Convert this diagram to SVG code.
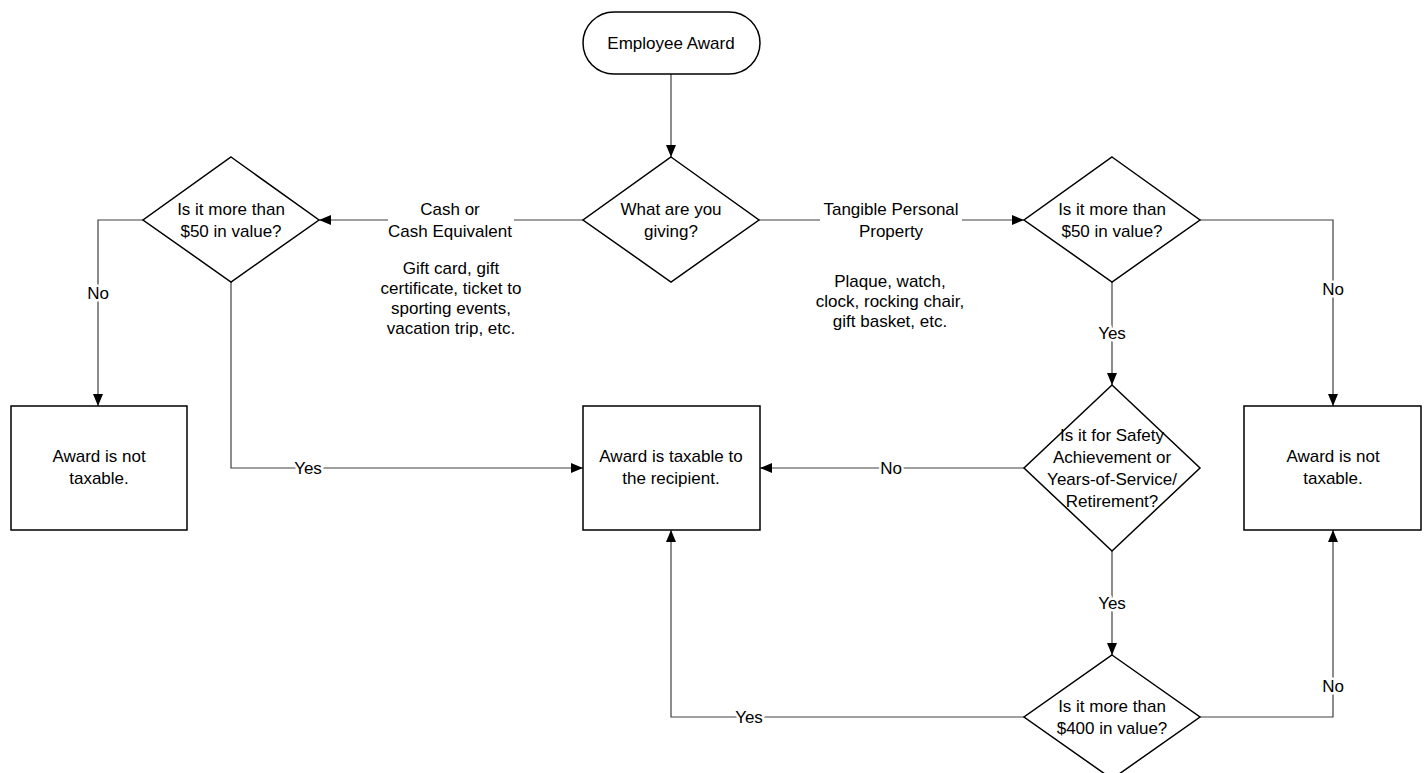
<svg xmlns="http://www.w3.org/2000/svg" width="1426" height="773" viewBox="0 0 1426 773">
<style>
.shape{fill:#fff;stroke:#000;stroke-width:1.5}
.conn{fill:none;stroke:#404040;stroke-width:1.2}
text{font-family:"Liberation Sans",Arial,sans-serif;font-size:17px;fill:#000;text-anchor:middle}
.lbl{paint-order:stroke;stroke:#fff;stroke-width:5px;stroke-linejoin:round}
</style>
<defs>
<marker id="arr" markerUnits="userSpaceOnUse" markerWidth="13" markerHeight="11" refX="12" refY="5.5" orient="auto">
<path d="M0,0.5 L12,5.5 L0,10.5 z" fill="#000"/>
</marker>
</defs>
<rect width="1426" height="773" fill="#fff"/>
<g id="connectors">
<path class="conn" d="M671,74 V157" marker-end="url(#arr)"/>
<path class="conn" d="M583,220 H319" marker-end="url(#arr)"/>
<path class="conn" d="M759,220 H1024" marker-end="url(#arr)"/>
<path class="conn" d="M143,220 H98 V406" marker-end="url(#arr)"/>
<path class="conn" d="M231,282 V468 H583" marker-end="url(#arr)"/>
<path class="conn" d="M1200,220 H1333 V406" marker-end="url(#arr)"/>
<path class="conn" d="M1112,282 V385" marker-end="url(#arr)"/>
<path class="conn" d="M1024,468 H760" marker-end="url(#arr)"/>
<path class="conn" d="M1112,551 V655" marker-end="url(#arr)"/>
<path class="conn" d="M1024,717 H671 V530" marker-end="url(#arr)"/>
<path class="conn" d="M1200,717 H1333 V530" marker-end="url(#arr)"/>
<rect x="388" y="198" width="126" height="44" fill="#fff"/>
<rect x="820" y="198" width="142" height="44" fill="#fff"/>
<text class="lbl" x="450" y="215">Cash or</text>
<text class="lbl" x="450" y="237">Cash Equivalent</text>
<text x="451" y="274">Gift card, gift</text>
<text x="451" y="294">certificate, ticket to</text>
<text x="451" y="314">sporting events,</text>
<text x="451" y="334">vacation trip, etc.</text>
<text class="lbl" x="891" y="215">Tangible Personal</text>
<text class="lbl" x="891" y="237">Property</text>
<text x="890" y="287">Plaque, watch,</text>
<text x="890" y="307">clock, rocking chair,</text>
<text x="890" y="327">gift basket, etc.</text>
<text class="lbl" x="98" y="299">No</text>
<text class="lbl" x="308" y="474">Yes</text>
<text class="lbl" x="1333" y="295">No</text>
<text class="lbl" x="1112" y="339">Yes</text>
<text class="lbl" x="891" y="474">No</text>
<text class="lbl" x="1112" y="609">Yes</text>
<text class="lbl" x="749" y="723">Yes</text>
<text class="lbl" x="1333" y="692">No</text>
</g>
<g id="start">
<rect class="shape" x="583" y="12" width="177" height="62" rx="31" ry="31"/>
<text x="671" y="49">Employee Award</text>
</g>
<g id="q-what">
<polygon class="shape" points="671,157 759,220 671,282 583,220"/>
<text x="671" y="215">What are you</text>
<text x="671" y="237">giving?</text>
</g>
<g id="q-cash50">
<polygon class="shape" points="231,157 319,220 231,282 143,220"/>
<text x="231" y="215">Is it more than</text>
<text x="231" y="237">$50 in value?</text>
</g>
<g id="q-prop50">
<polygon class="shape" points="1112,157 1200,220 1112,282 1024,220"/>
<text x="1112" y="215">Is it more than</text>
<text x="1112" y="237">$50 in value?</text>
</g>
<g id="q-safety">
<polygon class="shape" points="1112,385 1200,468 1112,551 1024,468"/>
<text x="1112" y="441">Is it for Safety</text>
<text x="1112" y="463">Achievement or</text>
<text x="1112" y="485">Years-of-Service/</text>
<text x="1112" y="507">Retirement?</text>
</g>
<g id="q-400">
<polygon class="shape" points="1112,655 1200,717 1112,779 1024,717"/>
<text x="1112" y="712">Is it more than</text>
<text x="1112" y="734">$400 in value?</text>
</g>
<g id="not-taxable-left">
<rect class="shape" x="11" y="406" width="176" height="124"/>
<text x="99" y="462">Award is not</text>
<text x="99" y="484">taxable.</text>
</g>
<g id="taxable">
<rect class="shape" x="583" y="406" width="177" height="124"/>
<text x="671" y="462">Award is taxable to</text>
<text x="671" y="484">the recipient.</text>
</g>
<g id="not-taxable-right">
<rect class="shape" x="1244" y="406" width="177" height="124"/>
<text x="1333" y="462">Award is not</text>
<text x="1333" y="484">taxable.</text>
</g>
</svg>
